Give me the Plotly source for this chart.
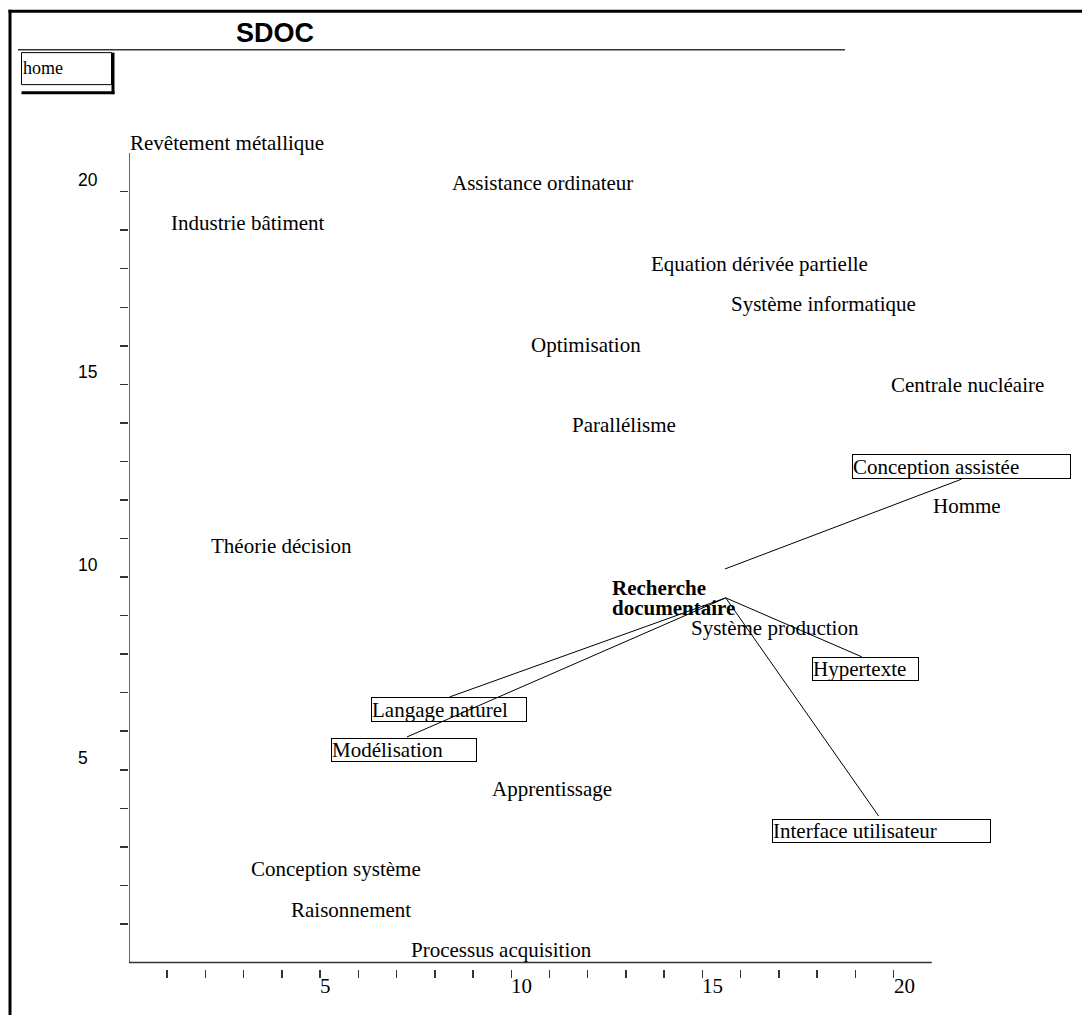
import plotly.graph_objects as go

# ---------------- data ----------------
labels = [
    "Revêtement métallique", "Assistance ordinateur", "Industrie bâtiment",
    "Equation dérivée partielle", "Système informatique", "Optimisation",
    "Centrale nucléaire", "Parallélisme", "Conception assistée", "Homme",
    "Théorie décision", "Recherche documentaire", "Système production",
    "Hypertexte", "Langage naturel", "Modélisation", "Apprentissage",
    "Interface utilisateur", "Conception système", "Raisonnement",
    "Processus acquisition",
]
label_x = [0.03, 8.45, 1.10, 13.65, 15.74, 10.51, 19.93, 11.58, 18.91, 21.03,
           2.14, 12.63, 14.70, 17.86, 6.33, 5.28, 9.49, 16.81, 3.19, 4.24, 7.37]
label_y = [21.27, 20.22, 19.19, 18.12, 17.08, 16.02, 14.99, 13.95, 12.87, 11.84,
           10.81, 9.46, 8.68, 7.61, 6.56, 5.51, 4.50, 3.40, 2.43, 1.36, 0.33]

hub_label = "Recherche documentaire"
boxed_labels = ["Conception assistée", "Hypertexte", "Langage naturel",
                "Modélisation", "Interface utilisateur"]

link_from_x = [15.59, 15.61, 15.61, 15.61, 15.61]
link_from_y = [10.21, 9.46, 9.46, 9.46, 9.46]
link_to_x = [21.78, 19.17, 19.61, 8.39, 7.27]
link_to_y = [12.54, 7.93, 3.80, 6.89, 5.85]

axis_ticks = list(range(1, 21))
tick_label_values = [5, 10, 15, 20]
tick_label_text = ["5", "10", "15", "20"]

# ---------------- styles / layout geometry ----------------
W, H = 1082, 1015
UNIT_X, UNIT_Y = 38.23, 38.545
XR = [0, 22]
YR = [-0.17, 21.6]
L, B = 129, 46
R = W - L - (XR[1] - XR[0]) * UNIT_X
T = H - B - (YR[1] - YR[0]) * UNIT_Y
PW, PH = W - L - R, H - T - B
AX_END = 21

box_size = {  # outer box width, height in px
    "Conception assistée": (219, 25),
    "Hypertexte": (107, 24),
    "Langage naturel": (156, 25),
    "Modélisation": (146, 24),
    "Interface utilisateur": (219, 24),
}

SERIF = "Liberation Serif"
SANS = "Liberation Sans"
FS = 21
HUB_LINE_GAP = 20.5


def px_x(px):
    return (px - L) / PW


def px_y(py):
    return (H - B - py) / PH


fig = go.Figure()

# links
lx, ly = [], []
for x0, y0, x1, y1 in zip(link_from_x, link_from_y, link_to_x, link_to_y):
    lx += [x0, x1, None]
    ly += [y0, y1, None]
fig.add_trace(go.Scatter(x=lx, y=ly, mode="lines",
                         line=dict(color="black", width=1),
                         hoverinfo="skip", showlegend=False))

annotations = []
for name, x, y in zip(labels, label_x, label_y):
    base = dict(x=x, y=y, xref="x", yref="y", xanchor="left", yanchor="middle",
                showarrow=False, align="left",
                font=dict(family=SERIF, size=FS, color="black"))
    if name == hub_label:
        parts = name.split(" ")
        n = len(parts)
        for i, p in enumerate(parts):
            a = dict(base)
            a.update(text="<b>" + p + "</b>", borderwidth=0, borderpad=0,
                     yshift=((n - 1) / 2 - i) * HUB_LINE_GAP)
            annotations.append(a)
        continue
    a = dict(base)
    if name in boxed_labels:
        w, h = box_size[name]
        a.update(text=name, width=w - 2, height=h - 2, bordercolor="black",
                 borderwidth=1, borderpad=0, valign="middle")
    else:
        a.update(text=name, borderwidth=0, borderpad=0)
    annotations.append(a)

# tick labels
for v, t in zip(tick_label_values, tick_label_text):
    annotations.append(dict(x=v, y=0, xref="x", yref="paper", text=t,
                            xanchor="left", yanchor="middle", yshift=-16.5,
                            showarrow=False, borderpad=0, borderwidth=0,
                            font=dict(family=SERIF, size=FS, color="black")))
    annotations.append(dict(x=0, y=v, xref="x", yref="y", text=t,
                            xanchor="left", yanchor="middle", xshift=-51, yshift=12,
                            showarrow=False, borderpad=0, borderwidth=0,
                            font=dict(family=SANS, size=17.5, color="black")))

# title and home button text
annotations.append(dict(x=px_x(275), y=px_y(32.5), xref="paper", yref="paper",
                        text="<b>SDOC</b>", showarrow=False, xanchor="center",
                        yanchor="middle", font=dict(family=SANS, size=27, color="black")))
annotations.append(dict(x=px_x(22.5), y=px_y(68), xref="paper", yref="paper",
                        text="home", showarrow=False, xanchor="left", yanchor="middle",
                        borderpad=0, borderwidth=0,
                        font=dict(family=SERIF, size=18, color="black")))

axis_col = "#333333"
shapes = [
    # axis lines
    dict(type="line", xref="x", yref="y", x0=0, x1=AX_END, y0=0, y1=0,
         line=dict(color=axis_col, width=1.5)),
    dict(type="line", xref="x", yref="y", x0=0, x1=0, y0=0, y1=AX_END,
         line=dict(color=axis_col, width=1.5)),
    # outer frame
    dict(type="line", xref="paper", yref="paper", x0=px_x(8.5), x1=px_x(1083),
         y0=px_y(11), y1=px_y(11), line=dict(color="black", width=3)),
    dict(type="line", xref="paper", yref="paper", x0=px_x(10), x1=px_x(10),
         y0=px_y(9.5), y1=px_y(1016), line=dict(color="black", width=3)),
    # title rule
    dict(type="line", xref="paper", yref="paper", x0=px_x(18), x1=px_x(845),
         y0=px_y(49.5), y1=px_y(49.5), line=dict(color=axis_col, width=1.5)),
    # home button
    dict(type="rect", xref="paper", yref="paper", x0=px_x(21.5), x1=px_x(111.5),
         y0=px_y(52.5), y1=px_y(84.5), line=dict(color="black", width=1)),
    dict(type="line", xref="paper", yref="paper", x0=px_x(21.5), x1=px_x(114.5),
         y0=px_y(92.5), y1=px_y(92.5), line=dict(color="black", width=3)),
    dict(type="line", xref="paper", yref="paper", x0=px_x(113), x1=px_x(113),
         y0=px_y(52.5), y1=px_y(94), line=dict(color="black", width=3)),
]

fig.update_layout(
    width=W, height=H,
    margin=dict(l=L, r=R, t=T, b=B, pad=0),
    paper_bgcolor="white", plot_bgcolor="white",
    showlegend=False, hovermode=False,
    annotations=annotations, shapes=shapes,
    xaxis=dict(range=XR, showgrid=False, zeroline=False, showline=False,
               ticks="outside", ticklen=8, tickwidth=1.5, tickcolor=axis_col,
               tickvals=axis_ticks, showticklabels=False, fixedrange=True),
    yaxis=dict(range=YR, showgrid=False, zeroline=False, showline=False,
               ticks="outside", ticklen=8, tickwidth=1.5, tickcolor=axis_col,
               tickvals=axis_ticks, showticklabels=False, fixedrange=True),
)

fig.write_html("out.html", config={"displayModeBar": False, "staticPlot": True},
               post_script="document.body.style.margin='0px';")
